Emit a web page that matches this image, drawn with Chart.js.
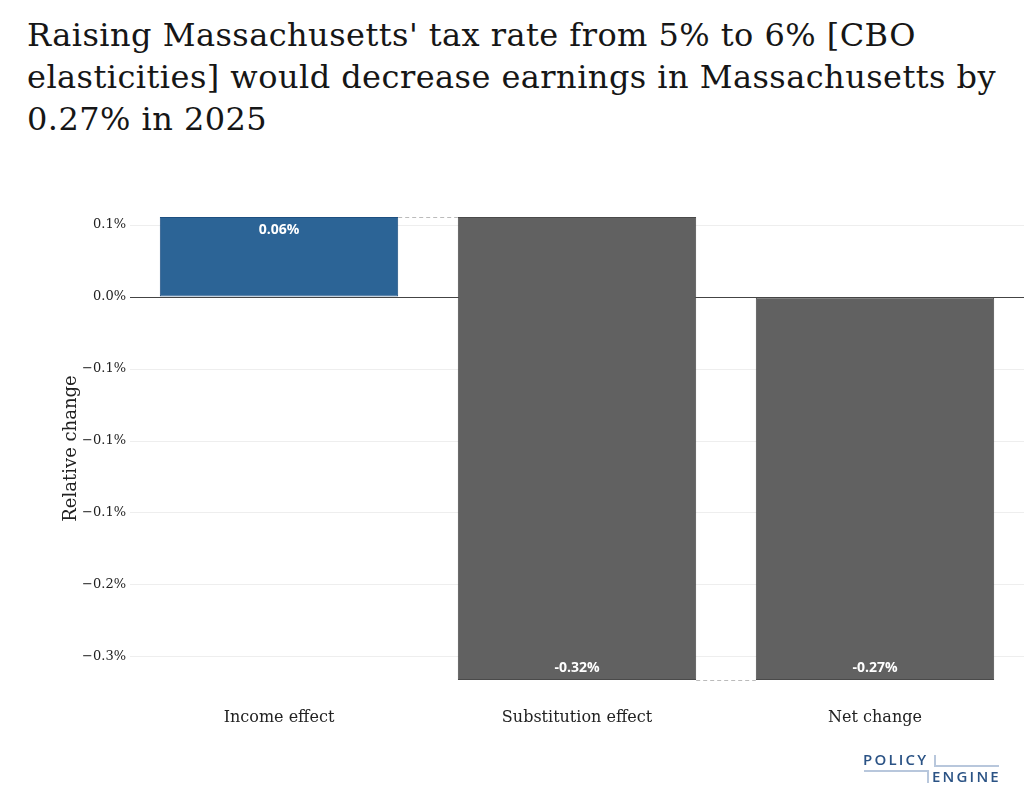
<!DOCTYPE html>
<html>
<head>
<meta charset="utf-8">
<script src="https://cdn.jsdelivr.net/npm/chart.js@4.4.1/dist/chart.umd.min.js"></script>
<style>
  html, body { margin: 0; padding: 0; background: #fff; }
  #wrap { position: relative; width: 1024px; height: 807px; overflow: hidden; }
  #title {
    position: absolute; left: 27px; top: 14px; width: 997px; white-space: nowrap;
    font-family: "DejaVu Serif", serif; font-size: 32px; letter-spacing: 0.45px; line-height: 42px; color: #161616;
  }
  #chartBox { position: absolute; left: 0; top: 0; width: 1024px; height: 807px; }
  .logo { position: absolute; font-family: "Open Sans", sans-serif; font-weight: 600; font-size: 15px;
    color: #2b5385; letter-spacing: 2.2px; line-height: 15px; }
  .ln { position: absolute; background: #b8c7dc; }
</style>
</head>
<body>
<div id="wrap">
  <div id="title">Raising Massachusetts' tax rate from 5% to 6% [CBO<br>elasticities] would decrease earnings in Massachusetts by<br>0.27% in 2025</div>
  <div id="chartBox"><canvas id="chart"></canvas></div>
  <div class="logo" style="left:863px; top:752px;">POLICY</div>
  <div class="logo" style="left:932px; top:769px;">ENGINE</div>
  <div class="ln" style="left:934px; top:755px; width:2px; height:12px;"></div>
  <div class="ln" style="left:934px; top:765px; width:65px; height:2px;"></div>
  <div class="ln" style="left:864px; top:770px; width:65px; height:2px;"></div>
  <div class="ln" style="left:927px; top:770px; width:2px; height:13px;"></div>
</div>
<script>
// Waterfall data (values in percent)
const categories = ["Income effect", "Substitution effect", "Net change"];
const changes = [0.0556, -0.3216];
const netChange = -0.266;
const tickValues = [0.05, 0, -0.05, -0.1, -0.15, -0.2, -0.25];
const tickLabels = ["0.1%", "0.0%", "\u22120.1%", "\u22120.1%", "\u22120.1%", "\u22120.2%", "\u22120.3%"];

// floating bars: [start, end]
let running = 0;
let bars = [];
changes.forEach(c => {
    bars.push([running, running + c]);
    running += c;
});
bars.push([0, netChange]);
const barValues = [changes[0], changes[1], netChange];

const barLabels = {
    id: "barLabels",
    afterDatasetsDraw(chart) {
        const ctx = chart.ctx;
        const meta = chart.getDatasetMeta(0);
        const yScale = chart.scales.y;
        ctx.save();
        // connectors
        ctx.strokeStyle = "#bbbbbb";
        ctx.lineWidth = 1;
        ctx.setLineDash([4, 3]);
        for (let i = 0; i < bars.length - 1; i++) {
            const a = meta.data[i], b = meta.data[i + 1];
            const y = Math.round(yScale.getPixelForValue(bars[i][1])) + 0.5;
            ctx.beginPath();
            ctx.moveTo(a.x + a.width / 2, y);
            ctx.lineTo(b.x - b.width / 2, y);
            ctx.stroke();
        }
        ctx.setLineDash([]);
        // value labels inside bar ends
        ctx.fillStyle = "#ffffff";
        ctx.font = "bold 14px 'Open Sans', sans-serif";
        ctx.textAlign = "center";
        ctx.textBaseline = "middle";
        meta.data.forEach((bar, i) => {
            const v = barValues[i];
            const text = v.toFixed(2) + "%";
            const endY = yScale.getPixelForValue(bars[i][1]);
            const y = v >= 0 ? endY + 13 : endY - 12;
            ctx.fillText(text, bar.x, y);
        });
        ctx.restore();
    }
};

new Chart(document.getElementById("chart"), {
    type: "bar",
    data: {
        labels: categories,
        datasets: [{
            data: bars,
            backgroundColor: ["#2c6496", "#616161", "#616161"],
            borderColor: ["#1d4f80", "#4a4a4a", "#4a4a4a"],
            borderWidth: 1,
            borderSkipped: false,
            barPercentage: 0.8,
            categoryPercentage: 1.0
        }]
    },
    options: {
        responsive: true,
        maintainAspectRatio: false,
        animation: false,
        layout: { padding: { top: 217, right: 0, bottom: 0, left: 0 } },
        plugins: { legend: { display: false }, tooltip: { enabled: false } },
        scales: {
            x: {
                grid: { display: false, drawTicks: false },
                border: { display: false },
                ticks: { padding: 28, color: "#222", font: { family: "DejaVu Serif", size: 16 } },
                afterFit(scale) { scale.height = 127; }
            },
            y: {
                min: netChange,
                max: changes[0],
                afterBuildTicks(scale) {
                    scale.ticks = tickValues.map(v => ({ value: v }));
                },
                ticks: {
                    padding: 4,
                    color: "#222",
                    font: { family: "DejaVu Serif", size: 13 },
                    callback: (value, index) => tickLabels[index]
                },
                grid: {
                    drawTicks: false,
                    color: ctx => (ctx.tick && ctx.tick.value === 0) ? "#444444" : "#eeeeee",
                    lineWidth: 1
                },
                border: { display: false },
                title: {
                    display: true,
                    text: "Relative change",
                    color: "#222",
                    font: { family: "DejaVu Serif", size: 18 },
                    padding: { top: 61, bottom: 0 }
                },
                afterFit(scale) { scale.width = 130; }
            }
        }
    },
    plugins: [barLabels]
});
</script>
</body>
</html>
